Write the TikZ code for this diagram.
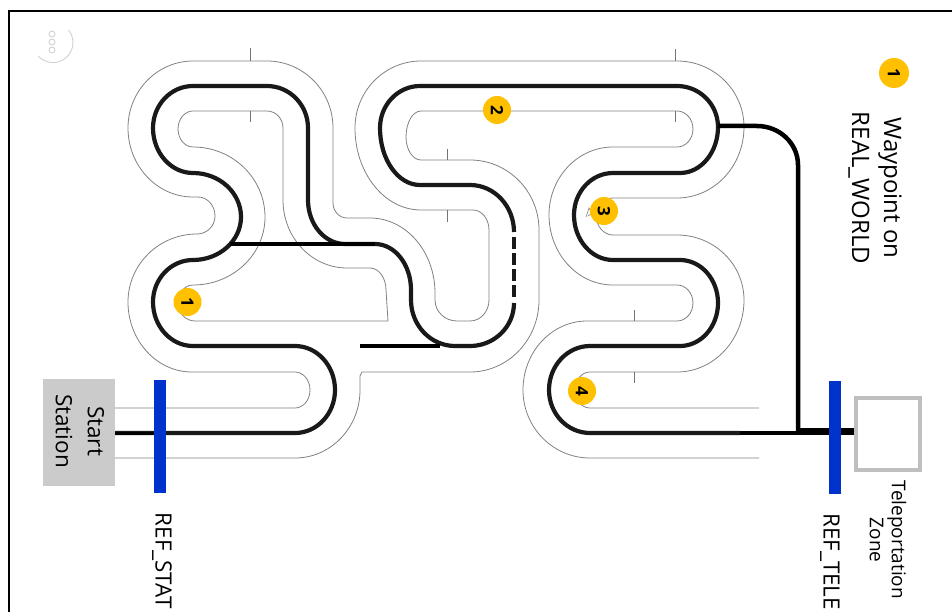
\documentclass[tikz,border=0pt]{standalone}
\usepackage{fontspec}
\setmainfont{Open Sans}
\definecolor{gold}{HTML}{FFC000}
\definecolor{refblue}{HTML}{0033CC}
\definecolor{stationgray}{HTML}{CCCBCC}
\definecolor{boxgray}{HTML}{BFBFBF}
\newcommand\HV[4]{.. controls ({#1+.552*(#3-#1)},#2) and (#3,{#4+.552*(#2-#4)}) .. (#3,#4)}
\newcommand\VH[4]{.. controls (#1,{#2+.552*(#4-#2)}) and ({#3+.552*(#1-#3)},#4) .. (#3,#4)}
\tikzset{
  outline/.style={draw=black!50,line width=0.8pt},
  trackline/.style={draw=black!90,line width=4.2pt},
  feeder/.style={draw=black,line width=4.5pt},
  tick/.style={draw=black!55,line width=0.9pt},
  refbar/.style={draw=none,fill=refblue},
  wp/.style={circle,fill=gold,minimum size=28pt,inner sep=0pt,font=\fontsize{17}{17}\selectfont\bfseries,rotate=-90},
  lbl/.style={rotate=-90,align=center,font=\fontsize{22.5}{32}\selectfont,inner sep=0pt},
  lbllegend/.style={rotate=-90,align=center,font=\fontsize{24}{32}\selectfont,inner sep=0pt},
  lblref/.style={rotate=-90,font=\fontsize{22.4}{24}\selectfont,inner sep=0pt},
  lblsm/.style={rotate=-90,align=center,font=\fontsize{19}{22}\selectfont,inner sep=0pt},
}
\begin{document}
\begin{tikzpicture}[x=1pt,y=-1pt]
\useasboundingbox (0,0) rectangle (952,612);
% frame
\draw[black,line width=2pt] (9,612) -- (9,11.5) -- (952,11.5);
% logo
\draw[black!18,line width=0.9pt] (68.5,30) arc[start angle=-39,end angle=137,radius=20];
\foreach \yy in {34,42,50} \draw[black!18,line width=0.9pt] (52,\yy) circle[radius=3];
% outlines
\draw[outline] (115,458) -- (295,458) \HV{295}{458}{360}{390} -- (360,376) -- (362,372) -- (470,372)
  \HV{470}{372}{539}{300} -- (539,230) \VH{539}{230}{470}{160} -- (421,160)
  \HV{421}{160}{406}{137} \VH{406}{137}{421}{111} -- (677,111)
  \HV{677}{111}{693}{129} \VH{693}{129}{677}{147} -- (613,147)
  \HV{613}{147}{549}{215} \VH{549}{215}{613}{285} -- (677,285)
  \HV{677}{285}{693}{303} \VH{693}{303}{677}{321} -- (587,321)
  \HV{587}{321}{523}{390} \VH{523}{390}{590}{458} -- (759,458);
\draw[outline] (115,408) -- (295,408) \HV{295}{408}{310}{390} \VH{310}{390}{295}{372} -- (192,372)
  \HV{192}{372}{128}{302} \VH{128}{302}{197}{234} \HV{197}{234}{215}{216} \VH{215}{216}{198}{197} -- (193,197)
  \HV{193}{197}{128}{128} \VH{128}{128}{193}{61} -- (267,61)
  \HV{267}{61}{333}{128} -- (333,203) \VH{333}{203}{347}{218} -- (370,218)
  \HV{370}{218}{435}{293} -- (435,300) \VH{435}{300}{457}{321} -- (470,321)
  \HV{470}{321}{489}{300} -- (489,230) \VH{489}{230}{473}{210} -- (421,210)
  \HV{421}{210}{355}{128} \VH{355}{128}{421}{61} -- (677,61)
  \HV{677}{61}{744}{127} \VH{744}{127}{677}{198} -- (613,198)
  \HV{613}{198}{596}{215} \VH{596}{215}{613}{235} -- (677,235)
  \HV{677}{235}{744}{300} \VH{744}{300}{677}{372} -- (590,372)
  \HV{590}{372}{575}{390} \VH{575}{390}{590}{408} -- (759,408);
\draw[outline] (193,111) -- (267,111) \HV{267}{111}{283}{128} -- (283,200) \VH{283}{200}{347}{268} -- (370,268)
  \HV{370}{268}{386}{290} -- (388,321) -- (195,321) \HV{195}{321}{178}{303} \VH{178}{303}{193}{285}
  \HV{193}{285}{265}{217} \VH{265}{217}{193}{147} \HV{193}{147}{178}{129} \VH{178}{129}{193}{111} -- cycle;
% ticks
\foreach \xx/\ya/\yb in {250/48/61,250/111/122,447/149/160,447/210/222,675/49/61,675/111/122,634/310/321,634/372/383}
  \draw[tick] (\xx,\ya) -- (\xx,\yb);
% track
\draw[trackline] (115,433) -- (295,433) \HV{295}{433}{335}{390} \VH{335}{390}{295}{346} -- (193,346)
  \HV{193}{346}{153}{302} \VH{153}{302}{193}{260} \HV{193}{260}{241}{217} \VH{241}{217}{193}{173}
  \HV{193}{173}{153}{128} \VH{153}{128}{193}{86} -- (267,86)
  \HV{267}{86}{308}{128} -- (308,200) \VH{308}{200}{345}{244} -- (375,244)
  \HV{375}{244}{411}{290} -- (411,300) \VH{411}{300}{455}{346} -- (470,346)
  \HV{470}{346}{514}{303};
\draw[trackline,dash pattern=on 12pt off 4pt] (514,237) -- (514,298);
\draw[trackline] (514,232) \VH{514}{232}{470}{185} -- (420,185)
  \HV{420}{185}{380}{128} \VH{380}{128}{420}{86} -- (677,86)
  \HV{677}{86}{718}{127} \VH{718}{127}{680}{173} -- (613,173)
  \HV{613}{173}{574}{215} \VH{574}{215}{613}{260} -- (680,260)
  \HV{680}{260}{718}{303} \VH{718}{303}{680}{346} -- (590,346)
  \HV{590}{346}{549}{390} \VH{549}{390}{590}{433} -- (740,433);
\draw[trackline,draw=black] (360,346) -- (440,346);
\draw[feeder] (230,244) -- (375,244);
\draw[feeder] (718,126) -- (757,126) \HV{757}{126}{798}{165} -- (798,433);
\draw[feeder] (740,433) -- (800,433);
\draw[black,line width=7pt] (798,431.5) -- (855,431.5);
% scribble near waypoint 3
\draw[black!40,line width=0.8pt] (586,217) -- (589,208) -- (592,213) -- (588,216);
% station
\node[fill=stationgray,minimum width=72pt,minimum height=107pt,inner sep=0pt] (station) at (79,432.5) {};
\draw[black,line width=3pt] (115,433) -- (154,433);
\node[lbl] (stationtxt) at (80,431) {Start\\Station};
\node[refbar,minimum width=12pt,minimum height=113pt,inner sep=0pt] (refa) at (160,436.5) {};
\node[refbar,minimum width=12pt,minimum height=113pt,inner sep=0pt] (refb) at (835,437) {};
\node[draw=boxgray,line width=4pt,fill=white,minimum width=64pt,minimum height=72pt,inner sep=0pt] (tele) at (888,434) {};
\node[lblref,anchor=west] (refatxt) at (162,512.5) {REF\_STAT};
\node[lblref,anchor=west] (refbtxt) at (830,513) {REF\_TELE};
\node[lblsm] (teletxt) at (888,540) {Teleportation\\Zone};
\node[lbllegend] (legendtxt) at (875,188) {Waypoint on\\REAL\_WORLD};
\node[wp] (w1) at (187.5,302) {1};
\node[wp] (w2) at (497,110) {2};
\node[wp] (w3) at (604,211) {3};
\node[wp] (w4) at (582,391) {4};
\node[wp,minimum size=30pt] (wl) at (894,73) {1};
\end{tikzpicture}
\end{document}
